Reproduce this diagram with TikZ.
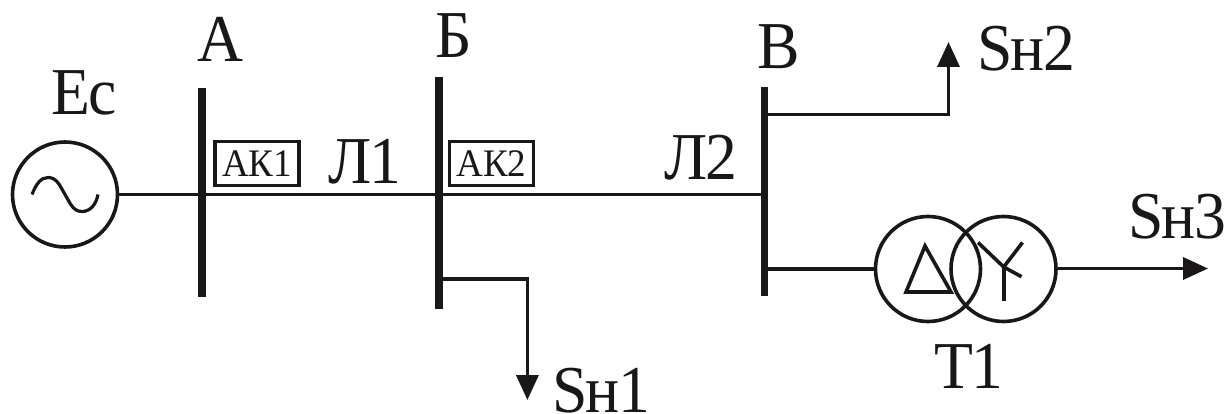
\documentclass[tikz,border=0pt]{standalone}
\usepackage{fontspec}
\setmainfont{Liberation Serif}
\newfontfamily\narrowserif[FakeStretch=0.95]{Liberation Serif}
\usetikzlibrary{arrows.meta}
\definecolor{ink}{HTML}{1A1718}
\newcommand{\tk}{\kern-1.6pt\relax}
\tikzset{
  busbar/.style={draw=none,fill=ink,rectangle,inner sep=0pt,outer sep=0pt,minimum width=7.6pt},
  ring/.style={draw=ink,circle,line width=3.6pt,inner sep=0pt,outer sep=1.8pt,minimum size=105pt},
  wire/.style={draw=ink,line width=3.6pt},
  flow/.style={wire,-{Triangle[length=25pt,width=22pt]}},
  glyph/.style={draw=ink,line width=3.6pt},
  bigtext/.style={anchor=base west,inner sep=0pt,outer sep=0pt,text=ink,font=\narrowserif\fontsize{67}{67}\selectfont},
  boxtext/.style={draw=ink,line width=3.4pt,rectangle,inner sep=0pt,outer sep=0pt,minimum width=84pt,minimum height=44pt,text=ink,font=\narrowserif\fontsize{39}{39}\selectfont},
}
\begin{document}
\begin{tikzpicture}[x=1pt,y=-1pt]
\useasboundingbox (0,0) rectangle (1225,414);
% generator
\node[ring] (gen) at (65,194.5) {};
\draw[glyph,line width=3.2pt] (32,194.5) .. controls (36,184) and (41,177.5) .. (48,177.5) .. controls (57,177.5) and (60,186) .. (65,194.5) .. controls (70,203) and (73,211.5) .. (82,211.5) .. controls (90,211.5) and (96,205) .. (98,194.5);
% busbars
\node[busbar,minimum height=209pt] (busA) at (202,192.5) {};
\node[busbar,minimum height=232pt] (busB) at (439,193) {};
\node[busbar,minimum height=209pt] (busC) at (764.5,191.5) {};
% lines
\draw[wire] (gen.east) -- (busA.west |- gen.east);
\draw[wire] (busA.east |- gen.east) -- (busB.west |- gen.east);
\draw[wire] (busB.east |- gen.east) -- (busC.west |- gen.east);
% loads
\coordinate (tipA) at (527.4,400);
\coordinate (startA) at (442,279);
\draw[flow] (busB.east |- startA) -- (tipA |- startA) -- (tipA);
\coordinate (tipB) at (948.5,42);
\coordinate (startB) at (768,114.5);
\draw[flow] (busC.east |- startB) -- (tipB |- startB) -- (tipB);
% transformer
\node[ring] (tl) at (928,269) {};
\node[ring] (tr) at (1003.5,269) {};
\draw[wire] (busC.east |- tl.west) -- (tl.west);
\coordinate (tipC) at (1208,268.5);
\draw[flow] (tr.east |- tipC) -- (tipC);
\draw[glyph,line join=miter] (925,246) -- (906,292) -- (951,292) -- cycle;
\coordinate (star) at (1003.7,267);
\draw[glyph] (978,242.5) -- (star) -- (1022.5,242.5);
\draw[glyph] (star) -- (1021.5,276.7);
\draw[glyph] (star) -- (1003.7,300.7);
% boxes
\node[boxtext] (ak1) at (257,163.5) {АК1};
\node[boxtext] (ak2) at (491.4,163.5) {АК2};
% labels
\node[bigtext] (lA) at (197,62) {А};
\node[bigtext] (lB) at (435,58) {Б};
\node[bigtext] (lC) at (757,69) {В};
\node[bigtext] (lE) at (51,115) {Е\tk с};
\node[bigtext] (lL1) at (328,183) {Л\tk 1};
\node[bigtext] (lL2) at (664,179) {Л\tk 2};
\node[bigtext] (lS1) at (552,412) {S\tk н\tk 1};
\node[bigtext] (lS2) at (977,71) {S\tk н\tk 2};
\node[bigtext] (lS3) at (1128,238) {S\tk н\tk 3};
\node[bigtext] (lT) at (934,388) {Т\tk 1};
\end{tikzpicture}
\end{document}
